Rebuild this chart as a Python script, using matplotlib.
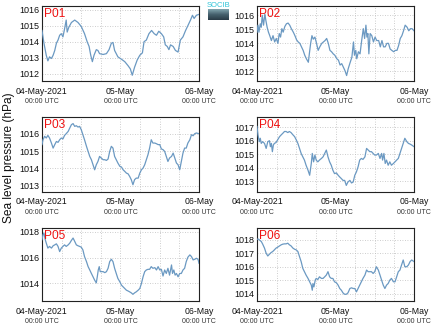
import numpy as np
import matplotlib
matplotlib.use("Agg")
import matplotlib.pyplot as plt
from matplotlib.transforms import blended_transform_factory
from matplotlib.colors import LinearSegmentedColormap

# ---------------- data (hours since 04-May-2021 00:00 UTC, hPa) ----------------
stations = ["P01", "P02", "P03", "P04", "P05", "P06"]

p01_h = [0.0, 0.6, 1.3, 1.8, 2.3, 2.9, 3.4, 3.9, 4.4, 4.9, 5.4, 5.9, 6.4, 6.9, 7.4, 7.7, 8.2, 9.0, 10.0, 11.0,
         12.0, 13.0, 13.8, 14.4, 14.9, 15.4, 15.9, 16.6, 17.1, 17.6, 18.7, 19.7, 20.5, 21.2, 21.7, 22.2, 23.2,
         24.3, 25.3, 26.3, 27.0, 27.6, 28.3, 29.1, 29.9, 30.7, 31.2, 31.9, 32.7, 33.5, 34.3, 35.0, 35.7, 36.5,
         37.2, 37.7, 38.3, 38.8, 39.3, 40.1, 40.8, 41.6, 42.3, 43.1, 43.9, 44.6, 45.4, 46.0, 46.5, 47.2, 47.9]
p01_v = [1014.7, 1013.9, 1013.15, 1012.8, 1013.05, 1012.95, 1013.15, 1013.45, 1013.9, 1014.1, 1014.4, 1014.5,
         1014.3, 1014.8, 1015.35, 1014.6, 1014.9, 1015.2, 1015.35, 1015.2, 1014.95, 1014.5, 1014.0, 1013.7,
         1013.15, 1012.75, 1013.15, 1013.5, 1013.45, 1013.25, 1013.2, 1013.25, 1013.5, 1013.9, 1013.95, 1013.45,
         1013.05, 1012.9, 1012.75, 1012.5, 1012.3, 1011.9, 1012.4, 1012.85, 1013.15, 1013.3, 1014.0, 1014.1,
         1014.5, 1014.7, 1014.5, 1014.4, 1014.65, 1014.5, 1014.3, 1013.8, 1013.7, 1013.5, 1013.8, 1013.7,
         1013.45, 1013.35, 1014.1, 1014.3, 1014.7, 1015.0, 1015.35, 1015.65, 1015.45, 1015.65, 1015.7]

p02_h = [0.0, 0.3, 0.6, 1.0, 1.3, 1.6, 2.0, 2.4, 2.7, 3.1, 3.5, 3.9, 4.4, 4.9, 5.4, 5.9, 6.4, 6.8, 7.2, 7.6,
         8.0, 8.5, 9.0, 9.5, 10.0, 10.5, 11.1, 11.6, 12.1, 12.6, 13.1, 13.6, 14.1, 14.6, 15.1, 15.7, 16.0, 16.4,
         16.8, 17.2, 17.7, 18.2, 18.7, 19.2, 19.8, 20.3, 20.8, 21.3, 21.8, 22.3, 22.8, 23.3, 23.8, 24.4, 24.9,
         25.4, 25.9, 26.4, 26.9, 27.4, 27.9, 28.5, 29.0, 29.5, 29.8, 30.2, 30.5, 31.0, 31.5, 32.0, 32.5, 32.9,
         33.3, 33.6, 33.9, 34.2, 34.6, 35.1, 35.6, 36.1, 36.6, 37.2, 37.7, 38.2, 38.7, 39.2, 39.7, 40.2, 40.7,
         41.2, 41.8, 42.3, 42.8, 43.3, 43.8, 44.3, 44.8, 45.3, 45.9, 46.4, 46.9, 47.4, 48.0]
p02_v = [1014.8, 1015.3, 1014.8, 1015.4, 1015.15, 1016.0, 1015.3, 1016.1, 1015.65, 1015.15, 1014.8, 1014.55,
         1014.2, 1014.55, 1014.1, 1014.35, 1014.0, 1014.7, 1014.45, 1015.05, 1014.8, 1015.2, 1015.4, 1015.45,
         1015.3, 1015.05, 1014.8, 1014.55, 1014.25, 1014.1, 1014.0, 1013.75, 1013.5, 1013.15, 1012.9, 1012.65,
         1013.25, 1014.0, 1014.55, 1014.3, 1014.45, 1014.0, 1013.5, 1013.75, 1014.0, 1014.1, 1014.2, 1014.35,
         1014.0, 1013.5, 1013.4, 1013.25, 1013.15, 1012.9, 1012.8, 1012.45, 1012.55, 1012.3, 1012.05, 1011.7,
         1012.2, 1012.65, 1013.0, 1014.1, 1013.15, 1013.5, 1012.9, 1013.4, 1013.25, 1014.2, 1015.05, 1014.35,
         1015.3, 1014.45, 1014.7, 1013.25, 1014.7, 1014.55, 1014.1, 1014.45, 1014.2, 1014.2, 1013.75, 1014.2,
         1013.75, 1013.75, 1014.0, 1014.0, 1013.6, 1013.5, 1013.4, 1013.5, 1013.5, 1013.85, 1014.35, 1014.55,
         1014.9, 1015.3, 1015.15, 1014.9, 1015.05, 1015.05, 1014.9]

p03_h = [0.0, 0.3, 0.8, 1.3, 1.8, 2.3, 2.9, 3.4, 3.9, 4.4, 4.9, 5.4, 5.9, 6.4, 6.9, 7.4, 8.0, 8.5, 9.0, 9.5,
         10.0, 10.5, 11.0, 11.5, 12.0, 12.5, 13.0, 13.6, 14.1, 14.6, 15.1, 15.6, 16.1, 16.6, 17.1, 17.6, 18.1,
         18.7, 19.2, 19.7, 20.2, 20.7, 21.2, 21.7, 22.2, 22.7, 23.2, 23.8, 24.3, 24.8, 25.3, 25.8, 26.3, 26.8,
         27.3, 27.8, 28.3, 28.8, 29.4, 29.9, 30.4, 30.9, 31.4, 31.9, 32.4, 32.9, 33.4, 33.9, 34.5, 35.0, 35.5,
         36.0, 36.5, 37.0, 37.5, 38.0, 38.5, 39.0, 39.6, 40.1, 40.6, 41.1, 41.6, 42.1, 42.6, 43.1, 43.6, 44.1,
         44.6, 45.2, 45.7, 46.2, 46.7, 47.2, 48.0]
p03_v = [1015.37, 1015.65, 1015.85, 1015.75, 1015.9, 1015.75, 1015.45, 1015.17, 1015.37, 1015.55, 1015.5,
         1015.65, 1015.75, 1015.7, 1015.9, 1016.0, 1016.13, 1016.33, 1016.52, 1016.58, 1016.42, 1016.46,
         1016.38, 1016.42, 1016.23, 1015.94, 1015.65, 1015.27, 1014.98, 1014.69, 1014.5, 1014.21, 1013.92,
         1014.21, 1014.4, 1014.69, 1014.6, 1014.5, 1014.5, 1014.46, 1014.54, 1014.98, 1015.27, 1015.17, 1014.69,
         1014.5, 1014.31, 1014.12, 1014.08, 1013.92, 1013.83, 1013.73, 1013.69, 1013.54, 1013.35, 1013.06,
         1013.35, 1013.44, 1013.44, 1013.73, 1013.92, 1014.02, 1014.21, 1014.5, 1014.79, 1015.17, 1015.65,
         1015.46, 1015.46, 1015.42, 1015.37, 1015.37, 1015.12, 1015.08, 1014.98, 1014.69, 1014.4, 1014.6,
         1014.69, 1014.88, 1014.6, 1014.31, 1014.21, 1013.92, 1014.4, 1014.88, 1015.17, 1015.17, 1015.46,
         1015.65, 1015.94, 1015.88, 1016.0, 1016.04, 1016.0]

p04_h = [0.0, 0.3, 0.7, 1.0, 1.3, 1.7, 2.3, 2.8, 3.3, 3.8, 4.1, 4.4, 4.7, 5.0, 5.3, 5.8, 6.3, 6.9, 7.4, 7.9,
         8.4, 8.9, 9.4, 9.9, 10.4, 11.0, 11.5, 12.0, 12.5, 13.0, 13.5, 14.0, 14.5, 15.0, 15.6, 16.1, 16.6, 16.9,
         17.3, 17.7, 18.1, 18.6, 19.1, 19.7, 20.2, 20.7, 21.2, 21.7, 22.2, 22.7, 23.2, 23.7, 24.3, 24.8, 25.3,
         25.8, 26.3, 26.8, 27.3, 27.8, 28.4, 28.9, 29.4, 29.9, 30.4, 30.9, 31.4, 31.9, 32.4, 33.0, 33.5, 34.0,
         34.5, 35.0, 35.5, 36.0, 36.5, 37.1, 37.6, 38.1, 38.4, 38.8, 39.2, 39.6, 40.1, 40.6, 41.1, 41.7, 42.2,
         42.7, 43.2, 43.7, 44.2, 44.7, 45.2, 45.8, 46.3, 46.8, 47.3, 48.0]
p04_v = [1017.05, 1016.43, 1015.93, 1016.18, 1015.8, 1015.93, 1015.8, 1015.43, 1015.93, 1016.0, 1015.56,
         1015.8, 1015.19, 1015.68, 1015.8, 1015.86, 1016.06, 1016.3, 1016.43, 1016.55, 1016.68, 1016.68,
         1016.6, 1016.68, 1016.6, 1016.43, 1016.3, 1016.06, 1015.8, 1015.43, 1015.06, 1014.81, 1014.57,
         1014.19, 1013.82, 1013.45, 1014.32, 1015.06, 1014.44, 1014.94, 1014.57, 1014.44, 1014.57, 1014.69,
         1014.81, 1015.06, 1015.31, 1014.81, 1014.44, 1014.19, 1013.82, 1013.57, 1013.62, 1013.45, 1013.32,
         1013.2, 1013.07, 1013.07, 1012.7, 1012.95, 1013.07, 1012.88, 1012.95, 1013.45, 1013.7, 1014.07,
         1014.57, 1014.69, 1014.62, 1014.81, 1015.43, 1015.31, 1015.19, 1015.19, 1015.06, 1014.94, 1014.94,
         1015.06, 1014.69, 1015.06, 1014.57, 1015.06, 1014.32, 1014.57, 1014.19, 1014.44, 1014.19, 1014.32,
         1014.44, 1014.57, 1014.69, 1015.06, 1015.43, 1015.8, 1016.18, 1015.93, 1015.8, 1015.75, 1015.68,
         1015.56]

p05_h = [0.0, 0.3, 0.6, 1.0, 1.3, 1.8, 2.3, 2.9, 3.4, 3.9, 4.4, 4.9, 5.4, 5.9, 6.4, 6.9, 7.4, 8.0, 8.5, 9.0,
         9.5, 10.0, 10.5, 11.0, 11.5, 12.0, 12.5, 13.0, 13.6, 14.1, 14.6, 15.1, 15.6, 16.1, 16.6, 16.9, 17.2,
         17.5, 17.8, 18.2, 18.7, 19.2, 19.7, 20.2, 20.7, 21.2, 21.7, 22.2, 22.7, 23.2, 23.8, 24.3, 24.8, 25.3,
         25.8, 26.3, 26.8, 27.3, 27.8, 28.3, 28.8, 29.4, 29.9, 30.4, 30.9, 31.4, 31.9, 32.4, 32.9, 33.4, 33.9,
         34.5, 35.0, 35.5, 36.0, 36.5, 37.0, 37.5, 38.0, 38.5, 39.0, 39.6, 39.9, 40.3, 40.7, 41.1, 41.6, 42.1,
         42.6, 43.1, 43.6, 44.1, 44.6, 45.2, 45.7, 46.2, 46.7, 47.2, 47.7, 48.0]
p05_v = [1017.4, 1017.79, 1017.92, 1017.4, 1017.14, 1016.75, 1016.88, 1016.75, 1016.93, 1017.0, 1017.08,
         1016.88, 1016.48, 1016.75, 1016.88, 1017.0, 1016.88, 1017.0, 1017.14, 1017.35, 1017.53, 1017.27,
         1017.0, 1016.93, 1016.88, 1016.82, 1016.61, 1016.09, 1015.7, 1015.31, 1015.05, 1014.78, 1014.52,
         1014.26, 1014.05, 1014.52, 1015.05, 1015.31, 1014.92, 1014.92, 1014.92, 1014.84, 1014.92, 1015.18,
         1015.7, 1015.88, 1015.7, 1015.18, 1014.78, 1014.39, 1014.13, 1013.87, 1013.74, 1013.61, 1013.48,
         1013.42, 1013.35, 1013.27, 1013.16, 1013.27, 1013.35, 1013.48, 1013.61, 1014.0, 1014.52, 1014.92,
         1015.05, 1015.1, 1015.1, 1015.31, 1015.18, 1015.23, 1015.05, 1015.31, 1015.05, 1015.1, 1014.58,
         1015.05, 1014.78, 1015.18, 1014.65, 1015.44, 1014.78, 1015.05, 1014.65, 1014.78, 1014.52, 1014.78,
         1014.78, 1015.05, 1015.18, 1015.7, 1016.04, 1016.22, 1016.09, 1015.83, 1015.88, 1015.96, 1015.88,
         1015.57]

p06_h = [0.0, 0.5, 0.9, 1.3, 1.7, 2.3, 2.8, 3.3, 3.8, 4.3, 4.8, 5.3, 5.8, 6.3, 6.9, 7.4, 7.9, 8.4, 8.9, 9.4,
         9.9, 10.4, 11.0, 11.5, 12.0, 12.5, 13.0, 13.5, 14.0, 14.5, 15.0, 15.6, 16.1, 16.6, 16.9, 17.1, 17.4,
         17.8, 18.1, 18.6, 19.1, 19.7, 20.2, 20.7, 21.2, 21.7, 22.2, 22.7, 23.2, 23.7, 24.3, 24.8, 25.3, 25.8,
         26.3, 26.8, 27.3, 27.8, 28.4, 28.9, 29.4, 29.9, 30.4, 30.9, 31.4, 31.9, 32.4, 33.0, 33.5, 34.0, 34.5,
         35.0, 35.5, 36.0, 36.5, 37.1, 37.6, 38.1, 38.6, 39.1, 39.6, 40.1, 40.6, 41.1, 41.7, 42.2, 42.7, 43.2,
         43.7, 44.2, 44.7, 45.2, 45.8, 46.3, 46.8, 47.3, 48.0]
p06_v = [1018.05, 1018.05, 1017.95, 1017.88, 1017.7, 1017.38, 1017.0, 1016.8, 1016.93, 1017.05, 1017.13,
         1017.25, 1017.38, 1017.45, 1017.55, 1017.63, 1017.68, 1017.7, 1017.7, 1017.75, 1017.63, 1017.55,
         1017.38, 1017.3, 1017.25, 1017.13, 1016.75, 1016.38, 1015.88, 1015.63, 1015.38, 1015.13, 1014.88,
         1014.63, 1014.25, 1014.75, 1014.5, 1015.0, 1015.13, 1015.05, 1015.25, 1015.13, 1015.13, 1015.25,
         1015.38, 1015.63, 1015.25, 1015.13, 1015.13, 1014.88, 1014.8, 1014.63, 1014.38, 1014.25, 1014.05,
         1013.95, 1013.95, 1014.05, 1014.38, 1014.43, 1014.38, 1014.38, 1014.13, 1014.38, 1014.63, 1014.88,
         1015.13, 1015.38, 1015.75, 1015.63, 1015.63, 1015.63, 1015.5, 1015.63, 1016.0, 1015.75, 1015.38,
         1015.0, 1014.63, 1014.38, 1014.63, 1014.75, 1015.0, 1015.13, 1014.88, 1014.88, 1015.25, 1015.63,
         1015.75, 1016.13, 1016.5, 1016.0, 1016.0, 1016.13, 1016.38, 1016.5, 1016.38]

y_limits = [(1011.54, 1016.23), (1011.31, 1016.67), (1012.67, 1016.96),
            (1012.25, 1017.75), (1012.64, 1018.31), (1013.45, 1018.88)]
y_ticks = [[1012, 1013, 1014, 1015, 1016], [1012, 1013, 1014, 1015, 1016],
           [1013, 1014, 1015, 1016], [1013, 1014, 1015, 1016, 1017],
           [1014, 1016, 1018], [1014, 1015, 1016, 1017, 1018]]
x_major_hours = [0, 24, 48]
x_date_labels = ["04-May-2021", "05-May", "06-May"]
x_time_label = "00:00 UTC"
y_label = "Sea level pressure (hPa)"

series = [(p01_h, p01_v), (p02_h, p02_v), (p03_h, p03_v),
          (p04_h, p04_v), (p05_h, p05_v), (p06_h, p06_v)]

# ---------------- figure ----------------
W, H = 434, 327
fig = plt.figure(figsize=(W / 100, H / 100), dpi=100)
FONT = "Liberation Sans"
LINE_COLOR = "#6b99c2"

col_left = [42, 257]
ax_w = 157
rows = [(6, 81), (117, 191.5), (228, 301)]

for i, name in enumerate(stations):
    r, c = divmod(i, 2)
    top, bot = rows[r]
    ax = fig.add_axes([col_left[c] / W, 1 - bot / H, ax_w / W, (bot - top) / H])
    hrs, vals = series[i]
    ax.plot(hrs, vals, color=LINE_COLOR, lw=0.9, zorder=3)
    ax.set_xlim(0, 48)
    ax.set_ylim(*y_limits[i])
    ax.set_yticks(y_ticks[i])
    ax.set_yticklabels([str(t) for t in y_ticks[i]], fontsize=6.5, family=FONT, color="#111111")
    ax.set_xticks(x_major_hours)
    ax.set_xticks(np.arange(6, 48, 6), minor=True)
    ax.set_xticklabels(x_date_labels, fontsize=6.3, family=FONT, color="#111111")
    ax.tick_params(axis="both", which="both", length=0, pad=2)
    ax.tick_params(axis="x", pad=4)
    ax.grid(True, which="both", axis="x", color="#bdbdbd", lw=0.6, ls=(0, (1, 2)))
    ax.grid(True, which="major", axis="y", color="#bdbdbd", lw=0.6, ls=(0, (1, 2)))
    for s in ax.spines.values():
        s.set_color("#222222")
        s.set_linewidth(0.8)
    trans = blended_transform_factory(ax.transData, ax.transAxes)
    for hx in x_major_hours:
        ax.annotate(x_time_label, (hx, 0), xycoords=trans, xytext=(0, -12.5),
                    textcoords="offset points", ha="center", va="top",
                    fontsize=5.0, family=FONT, color="#333333", annotation_clip=False)
    ax.annotate(name, (0, 1), xycoords="axes fraction", xytext=(1.2, -1.5),
                textcoords="offset points", ha="left", va="top",
                fontsize=8.6, family=FONT, color="#ee1111", zorder=5)

fig.text(9 / W, 1 - 158 / H, y_label, rotation=90, ha="center", va="center",
         fontsize=8.6, family=FONT, color="#111111")

# small logo
lax = fig.add_axes([208 / W, 1 - 20 / H, 21 / W, 11 / H])
cmap = LinearSegmentedColormap.from_list("logo", ["#7fa3ad", "#45606d", "#2a3c48"])
lax.imshow(np.linspace(0, 1, 20).reshape(-1, 1), aspect="auto", cmap=cmap)
lax.axis("off")
fig.text(218.5 / W, 1 - 5.5 / H, "SOCIB", ha="center", va="center",
         fontsize=5.5, family=FONT, color="#2fc4d8")

fig.savefig("out.png", dpi=100)
